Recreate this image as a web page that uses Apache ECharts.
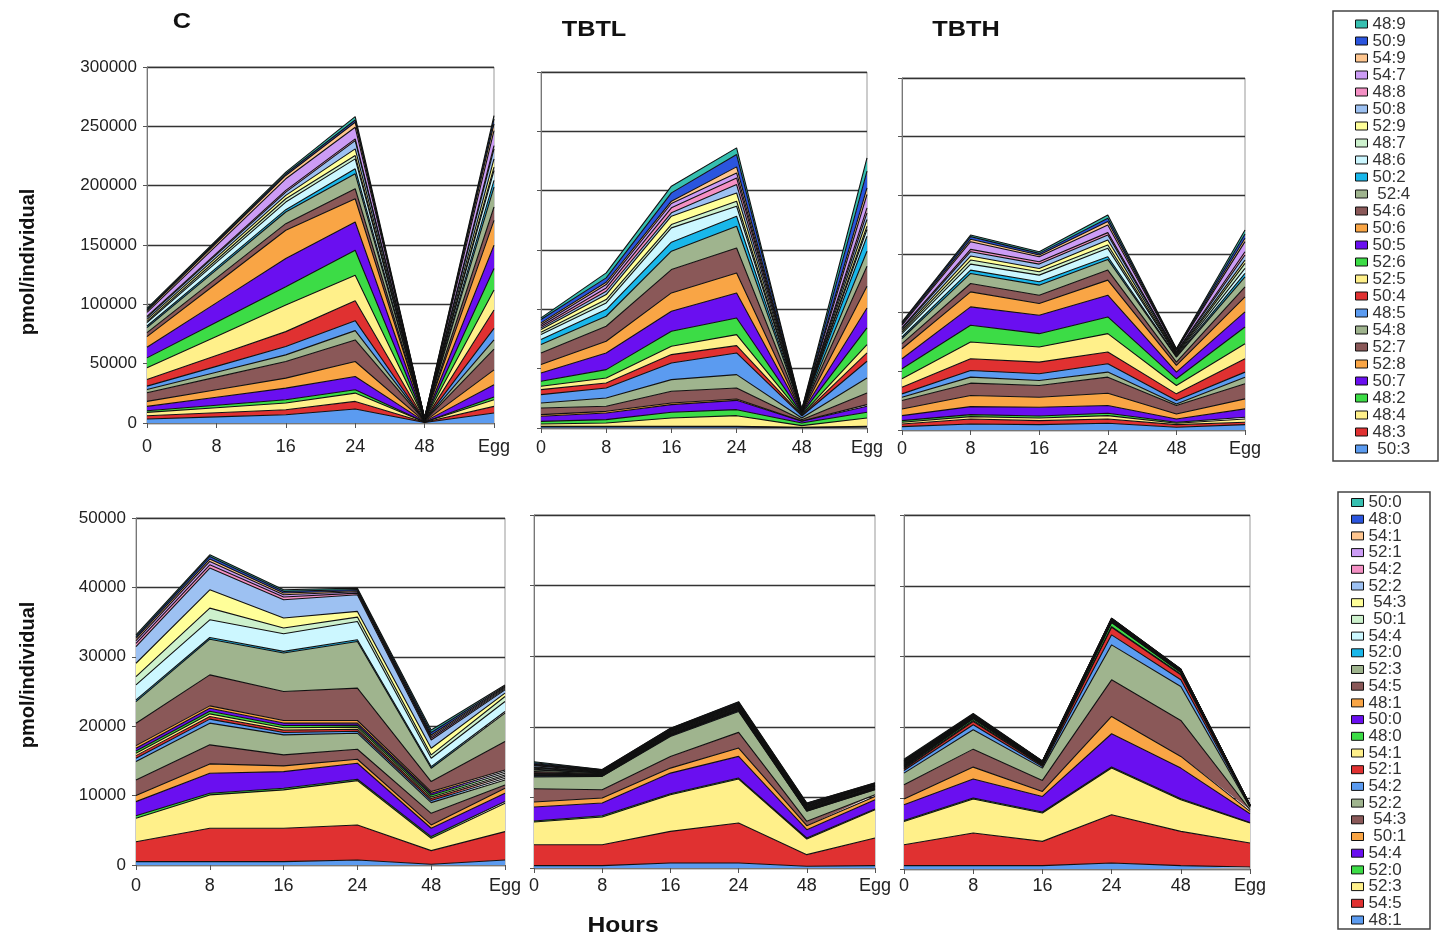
<!DOCTYPE html>
<html><head><meta charset="utf-8">
<script src="https://cdn.jsdelivr.net/npm/echarts@6/dist/echarts.min.js"></script>
<style>html,body{margin:0;padding:0;background:#fff}#c{width:1441px;height:938px}</style>
</head><body><div id="c"></div><script>
const hours = ['0','8','16','24','48','Egg'];
const panelTitles = ['C','TBTL','TBTH'];

// series names, listed from the bottom of the stack to the top
const topNames = [' 50:3','48:3','48:4','48:2','50:7','52:8','52:7','54:8','48:5','50:4','52:5','52:6','50:5','50:6','54:6',' 52:4','50:2','48:6','48:7','52:9','50:8','48:8','54:7','54:9','50:9','48:9'];
const botNames = ['48:1','54:5','52:3','52:0','54:4',' 50:1',' 54:3','52:2','54:2','52:1','54:1','48:0','50:0','48:1','54:5','52:3','52:0','54:4',' 50:1',' 54:3','52:2','54:2','52:1','54:1','48:0','50:0'];

// values per layer (rows, bottom->top) at hours 0, 8, 16, 24, 48, Egg
const topC = [
 [3360,5180,7000,11760,400,8400],[2800,3500,4200,6440,200,5600],[2800,4200,5600,7000,200,5600],[1400,2100,2800,2800,100,2240],
 [3640,6720,9800,11200,250,10360],[4200,6300,8400,12600,250,12600],[7280,10640,14000,18200,400,17360],[2800,4200,5600,7840,150,7840],
 [2800,4900,7000,8400,200,9800],[5600,9100,12600,16800,250,15400],[9800,16100,22400,21560,300,16800],[8400,11900,15400,21000,250,18200],
 [8960,16380,23800,23800,250,19600],[8960,16380,23800,19600,250,21000],[3360,4480,5600,8400,100,11200],[4200,7000,9800,12600,150,16800],
 [1400,1680,1960,4200,50,5600],[2800,4620,6440,8400,100,8400],[1120,1960,2800,2800,50,2800],[1680,2240,2800,5600,50,7000],
 [1680,2240,2800,7000,50,8400],[840,1120,1400,1400,30,2800],[3360,6580,9800,9800,100,12600],[1400,2100,2800,4200,50,5600],
 [840,1120,1400,1960,30,4200],[1120,1260,1400,2800,30,2800]
];
const topTBTL = [
 [840,840,840,840,280,840],[560,560,560,560,280,560],[1970,2810,7030,8990,1410,7030],[2250,2810,4780,5060,2250,4780],
 [4220,5620,6460,7870,1410,5060],[1410,1410,1410,1120,280,1410],[5620,4220,9840,9270,1120,9840],[4220,7030,9840,11240,1410,12650],
 [7030,8430,14050,18270,1690,14050],[4220,4220,7030,6180,560,7030],[2810,4220,7030,9270,560,7030],[4220,7030,12650,14050,840,14050],
 [7030,14050,16860,21080,560,16860],[7030,9840,15460,16860,280,18270],[9840,12650,19670,21080,560,16860],[7030,8430,15460,18270,280,12650],
 [4220,5620,7590,8430,280,12650],[4220,5620,12080,8430,280,5620],[1970,2810,2810,4220,140,2810],[2250,4220,7030,7030,140,5620],
 [1410,2810,2810,7030,140,5620],[1410,2810,4220,5620,140,4220],[1410,2810,3650,4220,140,11240],[1410,1970,1970,5060,140,5620],
 [2810,3650,7030,10400,280,14050],[1410,4220,5620,5620,140,11240]
];
const topTBTH = [
 [2850,5130,4560,5700,2280,4560],[2280,4280,3420,3710,2280,2000],[1430,2000,2280,2850,1140,2850],[1430,1710,1710,2000,860,1430],
 [4280,6840,7410,6560,2850,7130],[5700,9410,8550,10550,4280,8550],[7130,10550,9980,13680,7130,12830],[2850,5130,4280,4280,1430,5700],
 [2850,5700,5700,7130,2850,4280],[5700,9980,9980,9980,5700,11400],[7130,14250,12830,15680,7130,12830],[8550,14250,11400,14250,5700,14250],
 [8550,15680,15680,18530,5700,12830],[8550,12830,9980,12830,5700,12830],[4280,7130,7130,8550,2850,8550],[4280,8550,8550,9120,4280,8550],
 [1430,2850,2850,2280,570,2850],[2850,5130,5700,7130,860,4280],[1430,3420,2850,2850,860,4280],[1430,3420,2850,4280,860,2850],
 [1430,3710,3710,4280,860,4280],[860,2000,2000,2000,570,2850],[2000,6560,4280,6560,1140,8550],[860,2000,1430,2850,570,2850],
 [1140,2280,1430,2850,570,3710],[860,1430,1430,2850,290,3420]
];
const botC = [
 [480,480,480,720,100,720],[2880,4810,4810,5050,1970,4090],[3370,4810,5530,6390,1780,4090],[380,240,240,190,240,240],
 [2020,2880,2400,2310,1200,1200],[870,1350,820,580,480,720],[2260,2740,1590,1440,1680,480],[2640,3130,2880,2310,1540,720],
 [480,580,340,290,290,240],[380,380,340,290,290,240],[340,380,340,290,240,240],[340,380,340,290,290,240],
 [380,430,340,290,240,240],[380,340,380,380,240,240],[3220,4470,4180,4660,1440,4090],[3130,5140,5530,6730,1920,4090],
 [240,240,240,240,240,240],[2160,2550,2550,2640,1200,1440],[1200,1680,820,630,480,720],[1920,2640,1440,820,960,480],
 [2400,3130,2640,2400,1200,480],[480,480,380,240,240,140],[380,480,340,190,240,140],[340,340,240,140,240,140],
 [240,380,240,190,340,140],[240,240,240,190,380,140]
];
const botTBTL = [
 [330,330,710,710,240,330],[2970,2970,4480,5660,1650,3920],[3210,3920,5190,6230,2220,4010],[140,190,140,140,140,90],
 [1980,1790,2920,3070,1180,1320],[710,710,710,1180,570,470],[1890,1180,1650,2220,610,240],[1650,1890,2830,2970,1420,710],
 [140,50,90,90,50,50],[90,50,50,90,50,50],[90,50,50,50,50,50],[90,50,50,50,50,50],
 [90,50,50,90,50,50],[90,50,50,90,50,50],[190,90,90,90,90,90],[240,90,90,90,90,90],
 [90,50,50,50,50,50],[140,50,90,90,90,50],[90,50,50,50,50,50],[90,50,50,90,50,50],
 [190,50,90,90,90,50],[90,50,50,50,90,50],[90,50,50,50,50,50],[90,50,90,90,90,50],
 [140,50,90,90,90,50],[140,50,50,90,50,50]
];
const botTBTH = [
 [470,470,470,850,470,280],[2960,4610,3430,6820,4840,3390],[3290,4800,4000,6590,4470,2820],[140,140,140,140,140,90],
 [2210,2680,2210,4700,4330,1220],[800,1690,710,2450,1650,330],[2020,2540,1550,5170,5080,240],[1650,2730,1740,4940,4800,330],
 [380,710,240,1410,940,90],[190,470,140,1080,710,50],[90,140,50,90,90,15],[140,240,50,560,240,15],
 [90,50,50,50,50,15],[90,50,50,50,50,15],[90,50,50,50,50,15],[90,50,50,50,50,15],
 [90,50,50,50,50,15],[90,50,50,50,50,15],[90,50,50,50,50,15],[90,50,50,50,20,15],
 [90,50,20,50,20,15],[50,50,20,50,20,15],[50,50,20,50,20,15],[50,50,20,50,20,15],
 [50,50,20,20,20,15],[140,90,20,20,20,15]
];

const palette = ['#5b9bf0','#e03131','#fff08a','#3cdc46','#6a0ff0','#f9a545','#8a5858','#9fb48e',
 '#5b9bf0','#e03131','#fff08a','#3cdc46','#6a0ff0','#f9a545','#8a5858','#9fb48e',
 '#19b7ea','#ccf7ff','#cdf1cd','#ffff99','#9dc1f2','#f490c4','#cc9cf5','#ffc68f','#2b55de','#36bfb0'];

const FF = '"Liberation Sans", Arial, sans-serif';
// lower group of bottom names gets an invisible mark so duplicated labels stay separate entries
const botSeriesNames = botNames.map((n,i)=> i < 13 ? n + '\u200b' : n);

const grids = [
 {left:147, top:67, width:347, height:356},
 {left:541, top:72, width:326, height:356},
 {left:902, top:78, width:343, height:352},
 {left:136, top:518, width:369, height:347},
 {left:534, top:515, width:341, height:353},
 {left:904, top:515, width:346, height:354}
];
const xMargins = [15,11,10,12,9,8];

const chart = echarts.init(document.getElementById('c'), null, {renderer:'canvas'});
const panels = [topC, topTBTL, topTBTH, botC, botTBTL, botTBTH];
const series = [];
panels.forEach((rows, gi) => {
  const names = gi < 3 ? topNames : botSeriesNames;
  rows.forEach((vals, li) => {
    series.push({
      type:'line', name:names[li], xAxisIndex:gi, yAxisIndex:gi, stack:'s'+gi,
      data:vals, symbol:'none', showSymbol:false, silent:true,
      lineStyle:{color:'#111', width:1.1},
      itemStyle:{color:palette[li]},
      areaStyle:{color:palette[li], opacity:1},
      emphasis:{disabled:true}
    });
  });
});

const xAxes = grids.map((g,i)=>({
  type:'category', gridIndex:i, data:hours, boundaryGap:false,
  axisLine:{show:true, lineStyle:{color:'#777', width:1}},
  axisTick:{show:true, length:5, lineStyle:{color:'#555'}},
  axisLabel:{fontSize:18, color:'#222', fontFamily:FF, margin:xMargins[i], interval:0},
  splitLine:{show:false}
}));
const yAxes = grids.map((g,i)=>({
  type:'value', gridIndex:i, min:0,
  max: i<3 ? 300000 : 50000, interval: i<3 ? 50000 : 10000,
  axisLine:{show:true, lineStyle:{color:'#777', width:1}},
  axisTick:{show:true, length:4, lineStyle:{color:'#555'}},
  axisLabel:{show: i===0 || i===3, fontSize:17, color:'#222', fontFamily:FF, margin:10, formatter: v => String(v)},
  splitLine:{show:true, lineStyle:{color:'#333', width:1.3}}
}));

const topLegendData = topNames.map((n,i)=>({name:n, itemStyle:{color:palette[i], borderColor:'#111', borderWidth:1}})).reverse();
const botLegendData = botSeriesNames.map((n,i)=>({name:n, itemStyle:{color:palette[i], borderColor:'#111', borderWidth:1}})).reverse();

function txt(text, x, y, size, rot, sx){
  return {type:'text', x:x, y:y, rotation:rot||0, scaleX:sx||1, silent:true,
    style:{text:text, fontSize:size, fontWeight:'bold', fontFamily:FF, fill:'#111', align:'center', verticalAlign:'middle'}};
}

chart.setOption({
  animation:false,
  backgroundColor:'#fff',
  grid: grids.map(g=>Object.assign({show:true, borderColor:'#999', borderWidth:1, backgroundColor:'transparent', containLabel:false, outerBoundsMode:'none'}, g)),
  xAxis:xAxes, yAxis:yAxes,
  legend:[
    {orient:'vertical', left:1355, top:15.5, height:480, padding:0, itemGap:0, itemWidth:12, itemHeight:8, icon:'rect', selectedMode:false,
     textStyle:{fontSize:17, color:'#333', fontFamily:FF}, data:topLegendData},
    {orient:'vertical', left:1351, top:494, height:480, padding:0, itemGap:-0.3, itemWidth:12, itemHeight:8, icon:'rect', selectedMode:false,
     textStyle:{fontSize:17, color:'#333', fontFamily:FF}, data:botLegendData}
  ],
  graphic:[
    {type:'rect', shape:{x:1333, y:11, width:105, height:450}, style:{fill:'none', stroke:'#444', lineWidth:1.5}, silent:true},
    {type:'rect', shape:{x:1338, y:492, width:92, height:437}, style:{fill:'none', stroke:'#444', lineWidth:1.5}, silent:true},
    txt(panelTitles[0], 182, 22, 22, 0, 1.15),
    txt(panelTitles[1], 594, 30, 22, 0, 1.15),
    txt(panelTitles[2], 966, 30, 22, 0, 1.15),
    txt('Hours', 623, 926, 22, 0, 1.12),
    txt('pmol/individual', 28, 262, 20, Math.PI/2, 1),
    txt('pmol/individual', 28, 675, 20, Math.PI/2, 1)
  ],
  series:series
});
</script></body></html>
